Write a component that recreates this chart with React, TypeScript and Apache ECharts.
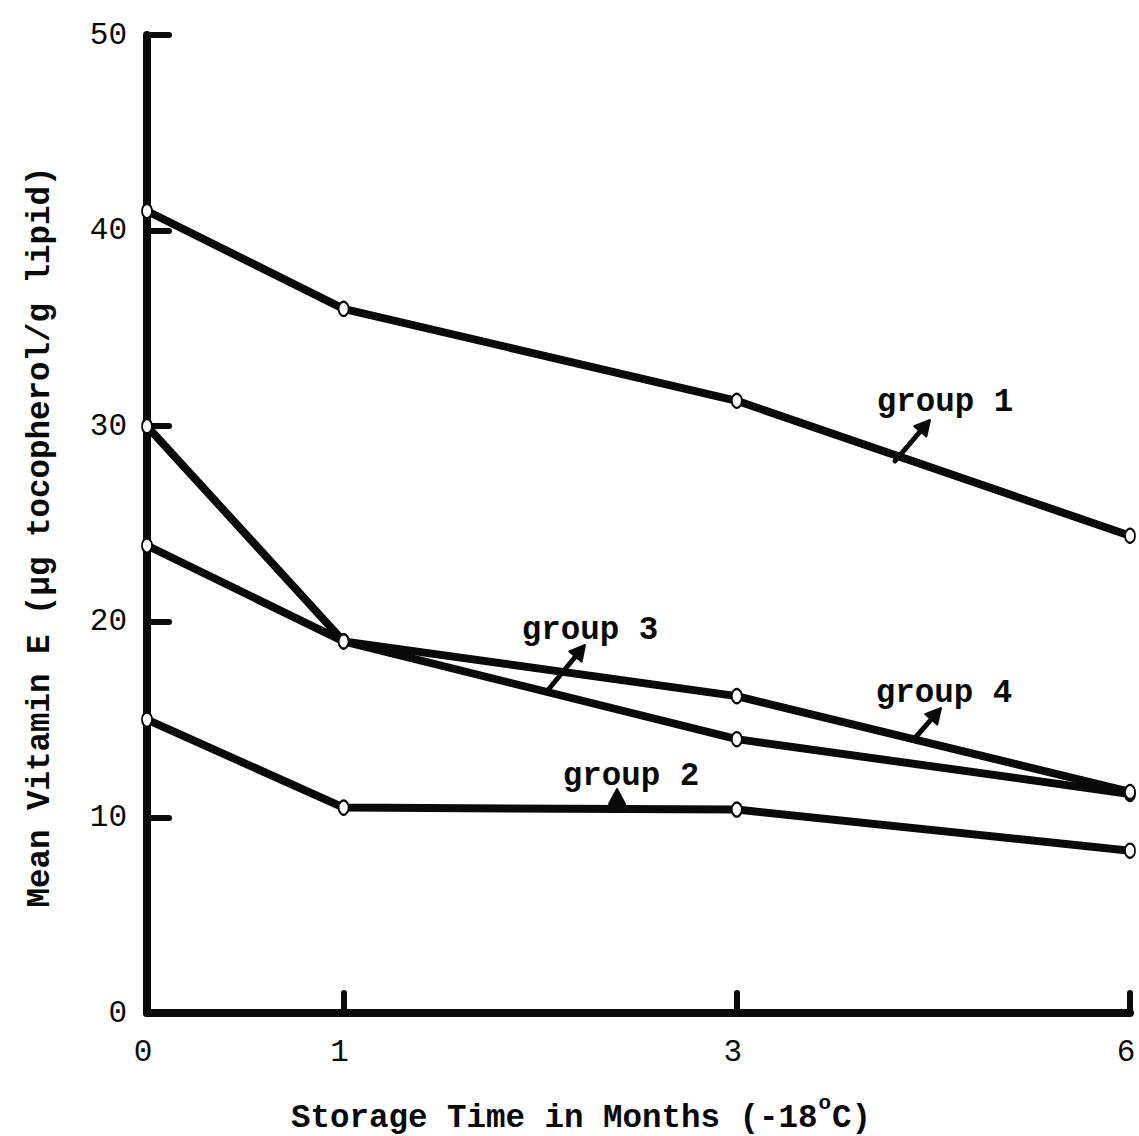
import React, { useEffect, useRef } from "react";
import * as echarts from "echarts";

const monthLabels = ["0", "1", "3", "6"];
const monthPositions = [0, 1, 3, 5];
const group1 = [41.0, 36.0, 31.3, 24.4];
const group2 = [15.0, 10.5, 10.4, 8.3];
const group3 = [23.9, 19.0, 14.0, 11.2];
const group4 = [30.0, 19.0, 16.2, 11.3];
const yMin = 0;
const yMax = 50;
const yStep = 10;

const FONT = "'Liberation Mono', 'DejaVu Sans Mono', monospace";
const INK = "#0a0a0a";

function arrow(x1: number, y1: number, x2: number, y2: number) {
  const dx = x2 - x1;
  const dy = y2 - y1;
  const len = Math.sqrt(dx * dx + dy * dy);
  const ux = dx / len;
  const uy = dy / len;
  const L = 15;
  const W = 8;
  const bx = x2 - ux * L;
  const by = y2 - uy * L;
  return [
    {
      type: "line",
      z: 20,
      shape: { x1, y1, x2: bx + ux * 3, y2: by + uy * 3 },
      style: { stroke: INK, lineWidth: 5, lineCap: "round" },
    },
    {
      type: "polygon",
      z: 20,
      shape: {
        points: [
          [x2, y2],
          [bx - uy * W, by + ux * W],
          [bx + uy * W, by - ux * W],
        ],
      },
      style: { fill: INK, stroke: INK, lineWidth: 2, lineJoin: "round" },
    },
  ];
}

function text(t: string, x: number, y: number, size: number, align = "center") {
  return {
    type: "text",
    z: 20,
    x,
    y,
    style: {
      text: t,
      fill: INK,
      font: `bold ${size}px ${FONT}`,
      align,
      verticalAlign: "middle",
    },
  };
}

export default function App() {
  const ref = useRef<HTMLDivElement>(null);

  useEffect(() => {
    if (!ref.current) return;
    const chart = echarts.init(ref.current, undefined, { renderer: "svg" });
    const mk = (name: string, vals: number[]) => ({
      name,
      type: "line",
      data: monthPositions.map((x, i) => [x, vals[i]]),
      symbol: "emptyCircle",
      symbolSize: [10, 14],
      lineStyle: { color: INK, width: 8 },
      itemStyle: { color: INK, borderColor: INK, borderWidth: 4 },
      z: 5,
    });

    const nameSize = 32.5;
    const charW = nameSize * 0.6;
    const mainPart = "Storage Time in Months (-18";
    const xStart = 291;
    const supX = xStart + mainPart.length * charW + 1;

    chart.setOption({
      animation: false,
      backgroundColor: "#ffffff",
      grid: { left: 147, right: 9, top: 35, bottom: 123 },
      xAxis: {
        type: "value",
        min: 0,
        max: 5,
        splitLine: { show: false },
        axisLine: { show: true, lineStyle: { color: INK, width: 8, cap: "round" } },
        axisTick: {
          show: true,
          inside: true,
          length: 20,
          customValues: monthPositions,
          lineStyle: { color: INK, width: 6, cap: "round" },
        },
        axisLabel: {
          customValues: monthPositions,
          formatter: (v: number) => {
            const i = monthPositions.indexOf(v);
            return i >= 0 ? monthLabels[i] : "";
          },
          color: INK,
          fontFamily: FONT,
          fontSize: 31,
          margin: 24,
          padding: [0, 8, 0, 0],
        },
      },
      yAxis: {
        type: "value",
        min: yMin,
        max: yMax,
        interval: yStep,
        splitLine: { show: false },
        axisLine: { show: true, lineStyle: { color: INK, width: 8, cap: "round" } },
        axisTick: {
          show: true,
          inside: true,
          length: 22,
          lineStyle: { color: INK, width: 6, cap: "round" },
        },
        axisLabel: {
          color: INK,
          fontFamily: FONT,
          fontSize: 31,
          margin: 20,
          padding: [0, 0, 18, 0],
        },
      },
      series: [
        mk("group 1", group1),
        mk("group 2", group2),
        mk("group 3", group3),
        mk("group 4", group4),
      ],
      graphic: [
        text("group 1", 945, 402, nameSize),
        text("group 3", 590, 630, nameSize),
        text("group 4", 944, 693, nameSize),
        text("group 2", 631, 776, nameSize),
        ...arrow(895, 461, 930, 420),
        ...arrow(548, 690, 585, 645),
        ...arrow(915, 738, 941, 708),
        ...arrow(617, 808, 617, 789),
        {
          type: "text",
          z: 20,
          x: 40,
          y: 537,
          rotation: Math.PI / 2,
          style: {
            text: "Mean Vitamin E (µg tocopherol/g lipid)",
            fill: INK,
            font: `bold ${nameSize}px ${FONT}`,
            align: "center",
            verticalAlign: "middle",
          },
        },
        text(mainPart, xStart, 1118, nameSize, "left"),
        text("o", supX, 1103, 21, "left"),
        text("C)", supX + 13.5, 1118, nameSize, "left"),
      ],
    });
    return () => chart.dispose();
  }, []);

  return (
    <div
      ref={ref}
      style={{ position: "absolute", left: 0, top: 0, width: 1139, height: 1136 }}
    />
  );
}
